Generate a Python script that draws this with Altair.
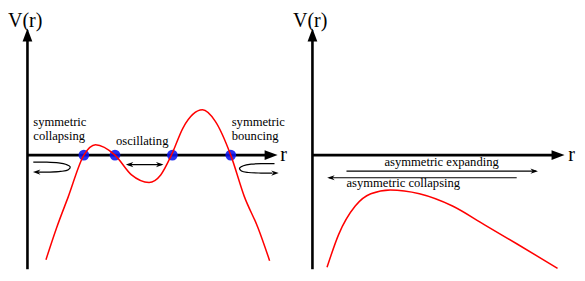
import altair as alt
import pandas as pd

# ---- data (reference-pixel coordinates, y grows downward) ----
left_curve_x = [39, 50, 62, 78, 90, 110, 127, 145, 157, 168, 180, 200, 213, 229, 243, 257, 269]
left_curve_y = [267, 233, 200, 156, 145, 156, 177, 185, 177, 156, 127, 108, 120, 156, 200, 233, 268]

right_curve_x = [328, 340, 357, 373, 393, 423, 457, 490, 523, 565]
right_curve_y = [275, 240, 210, 197, 193, 197, 210, 230, 250, 276]

dots_x = [78, 110, 169, 229]
dots_y = [156, 156, 156, 156]

axis_x1 = [20, 20, 313, 313]
axis_y1 = [277, 156, 277, 156]
axis_x2 = [20, 268, 313, 562]
axis_y2 = [32, 156, 32, 156]

head_x = [20, 270.5, 313, 565.5]
head_y = [28.5, 156, 28.5, 156]
head_angle = [270, 0, 270, 0]

arrow_x1 = [123, 348, 330]
arrow_y1 = [166, 173, 180]
arrow_x2 = [158, 543, 523]
arrow_y2 = [166, 173, 180]

small_head_x = [125, 156, 541, 332, 29.5, 274.5]
small_head_y = [166, 166, 173, 180, 174, 175]
small_head_angle = [180, 0, 0, 180, 180, 0]

loop_left_x = [26, 40, 52, 60, 64, 62, 54, 42, 31]
loop_left_y = [163.5, 163.5, 164.3, 166, 168.5, 171.5, 173.3, 174, 174]
loop_right_x = [274, 262, 250, 242, 238, 240, 247, 260, 272]
loop_right_y = [165, 165, 165.6, 167.3, 170, 172.8, 174.4, 175, 175]

big_labels = ["V(r)", "V(r)", "r", "r"]
big_label_x = [0, 293, 280, 576]
big_label_y = [20, 20, 162, 162]

small_labels = ["symmetric", "collapsing", "oscillating", "symmetric", "bouncing",
                "asymmetric expanding", "asymmetric collapsing"]
small_label_x = [26, 26, 111, 230, 230, 387, 348]
small_label_y = [125, 140, 145, 125, 140, 168, 190]

# ---- chart ----
W, H = 569, 265
XS = alt.Scale(domain=[0, 585], nice=False, zero=False)
YS = alt.Scale(domain=[0, 281], nice=False, zero=False, reverse=True)
FONT = "Liberation Serif"

def X(f="x"):
    return alt.X(f"{f}:Q", scale=XS, axis=None)

def Y(f="y"):
    return alt.Y(f"{f}:Q", scale=YS, axis=None)

axes_df = pd.DataFrame({"x": axis_x1, "y": axis_y1, "x2": axis_x2, "y2": axis_y2})
axes = alt.Chart(axes_df).mark_rule(color="black", strokeWidth=2.6).encode(
    x=X(), y=Y(), x2="x2:Q", y2="y2:Q")

heads_df = pd.DataFrame({"x": head_x, "y": head_y, "a": head_angle})
heads = alt.Chart(heads_df).mark_point(
    shape="M1,0L-1,-0.75L-1,0.75Z", filled=True, color="black", opacity=1, size=169
).encode(x=X(), y=Y(), angle=alt.Angle("a:Q", scale=None))

arrows_df = pd.DataFrame({"x": arrow_x1, "y": arrow_y1, "x2": arrow_x2, "y2": arrow_y2})
arrows = alt.Chart(arrows_df).mark_rule(color="black", strokeWidth=1.2).encode(
    x=X(), y=Y(), x2="x2:Q", y2="y2:Q")

sheads_df = pd.DataFrame({"x": small_head_x, "y": small_head_y, "a": small_head_angle})
sheads = alt.Chart(sheads_df).mark_point(
    shape="M1,0L-1,-0.7L-0.4,0L-1,0.7Z", filled=True, color="black", opacity=1, size=56
).encode(x=X(), y=Y(), angle=alt.Angle("a:Q", scale=None))

loops_df = pd.concat([
    pd.DataFrame({"x": loop_left_x, "y": loop_left_y, "g": "L", "o": range(len(loop_left_x))}),
    pd.DataFrame({"x": loop_right_x, "y": loop_right_y, "g": "R", "o": range(len(loop_right_x))}),
])
loops = alt.Chart(loops_df).mark_line(color="black", strokeWidth=1.2, interpolate="catmull-rom").encode(
    x=X(), y=Y(), detail="g:N", order="o:Q")

dots_df = pd.DataFrame({"x": dots_x, "y": dots_y})
dots = alt.Chart(dots_df).mark_point(
    shape="circle", filled=True, color="#0a14f0", opacity=0.88, size=115
).encode(x=X(), y=Y())

curves_df = pd.concat([
    pd.DataFrame({"x": left_curve_x, "y": left_curve_y, "g": "L"}),
    pd.DataFrame({"x": right_curve_x, "y": right_curve_y, "g": "R"}),
])
curves = alt.Chart(curves_df).mark_line(color="#ff0000", strokeWidth=1.5, interpolate="monotone").encode(
    x=X(), y=Y(), detail="g:N")

big_df = pd.DataFrame({"t": big_labels, "x": big_label_x, "y": big_label_y})
big = alt.Chart(big_df).mark_text(
    font=FONT, fontSize=20, align="left", baseline="alphabetic", color="black"
).encode(x=X(), y=Y(), text="t:N")

small_df = pd.DataFrame({"t": small_labels, "x": small_label_x, "y": small_label_y})
small = alt.Chart(small_df).mark_text(
    font=FONT, fontSize=12.6, align="left", baseline="alphabetic", color="black"
).encode(x=X(), y=Y(), text="t:N")

chart = alt.layer(axes, heads, arrows, sheads, loops, dots, curves, big, small).properties(
    width=W, height=H, autosize=alt.AutoSizeParams(type="none"), padding=0
).configure_view(stroke=None)

chart.save("out.html", embed_options={"renderer": "svg", "actions": False})
